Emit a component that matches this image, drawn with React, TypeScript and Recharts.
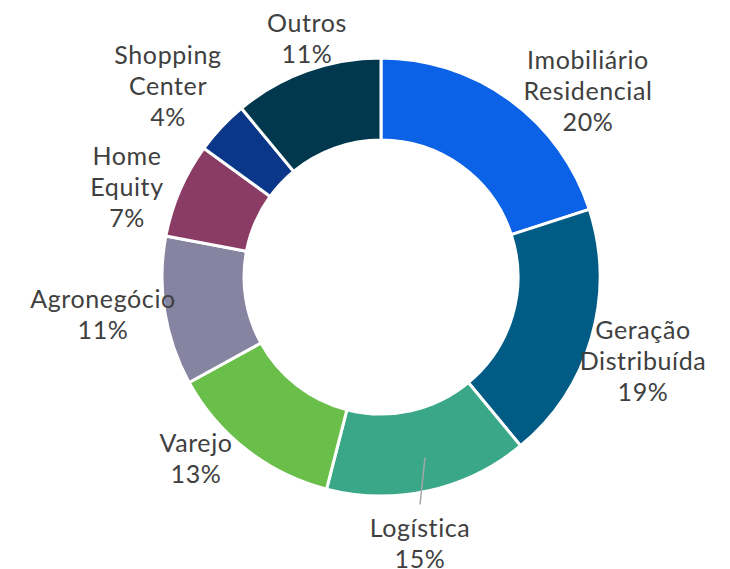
import { PieChart, Pie, Cell } from "recharts";

const segments = [
  "Imobiliário Residencial",
  "Geração Distribuída",
  "Logística",
  "Varejo",
  "Agronegócio",
  "Home Equity",
  "Shopping Center",
  "Outros",
];
const shares = [20, 19, 15, 13, 11, 7, 4, 11];
const labelLines = [
  ["Imobiliário", "Residencial"],
  ["Geração", "Distribuída"],
  ["Logística"],
  ["Varejo"],
  ["Agronegócio"],
  ["Home", "Equity"],
  ["Shopping", "Center"],
  ["Outros"],
];
const colors = [
  "#0B62E6",
  "#005C84",
  "#3AA888",
  "#6ABF4B",
  "#8784A2",
  "#8B3C65",
  "#0A378A",
  "#01384E",
];

// label block centre, relative to pie centre
const labelOffsets = [
  [207, -187],
  [262, 83],
  [39, 265],
  [-185, 180],
  [-278, 36],
  [-254, -91],
  [-213, -192],
  [-74, -240],
];

const data = segments.map((name, i) => ({ name, value: shares[i] }));

const LINE_H = 31;

const renderLabel = (props: any) => {
  const { cx, cy, index, value } = props;
  const [dx, dy] = labelOffsets[index];
  const lines = [...labelLines[index], `${value}%`];
  const x = cx + dx;
  const top = cy + dy - ((lines.length - 1) * LINE_H) / 2;
  return (
    <g key={`lbl-${index}`}>
      {index === 2 && (
        <line
          x1={x}
          y1={top - 22}
          x2={x + 5}
          y2={top - 69}
          stroke="#A6A6A6"
          strokeWidth={1.5}
        />
      )}
      <text
        x={x}
        y={top}
        textAnchor="middle"
        dominantBaseline="central"
        fill="#404040"
        fontSize={25}
        letterSpacing={0.6}
        fontFamily="Lato, sans-serif"
      >
        {lines.map((l, k) => (
          <tspan key={k} x={x} y={top + k * LINE_H}>
            {l}
          </tspan>
        ))}
      </text>
    </g>
  );
};

export default function App() {
  return (
    <div style={{ position: "absolute", left: 0, top: 0, width: 730, height: 569, overflow: "hidden" }}>
      <PieChart
        width={730}
        height={569}
        margin={{ top: 0, right: 0, bottom: 0, left: 0 }}
      >
        <Pie
          data={data}
          dataKey="value"
          cx={381}
          cy={277}
          innerRadius={137}
          outerRadius={219}
          startAngle={90}
          endAngle={-270}
          stroke="#FFFFFF"
          strokeWidth={3}
          label={renderLabel}
          labelLine={false}
          isAnimationActive={false}
        >
          {data.map((d, i) => (
            <Cell key={d.name} fill={colors[i]} />
          ))}
        </Pie>
      </PieChart>
    </div>
  );
}
